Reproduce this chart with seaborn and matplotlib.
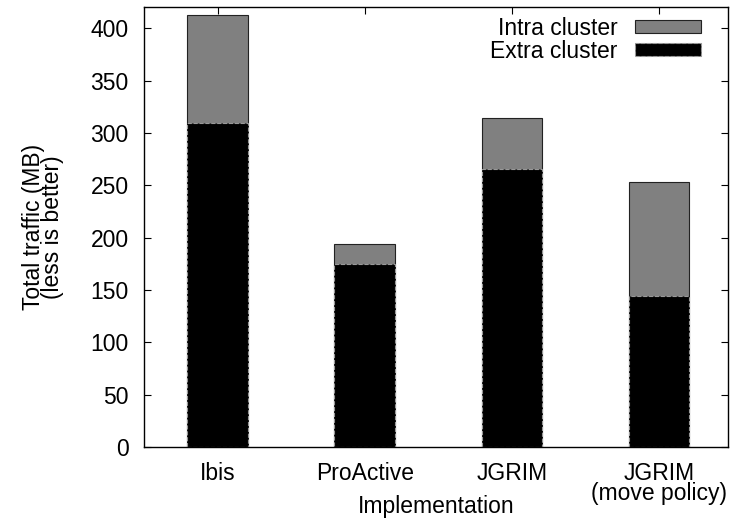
import matplotlib
matplotlib.use("Agg")
import matplotlib.pyplot as plt
import seaborn as sns
import pandas as pd
from matplotlib.patches import Patch

categories = ["Ibis", "ProActive", "JGRIM", "JGRIM\n(move policy)"]
extra_cluster = [309.5, 174.5, 265.5, 144.5]
intra_cluster = [103.0, 19.5, 48.5, 108.5]
totals = [e + i for e, i in zip(extra_cluster, intra_cluster)]

df = pd.DataFrame({"Implementation": categories, "total": totals, "extra": extra_cluster})

sns.set_theme(style="ticks")
plt.rcParams['font.family'] = ['Liberation Sans', 'DejaVu Sans']
plt.rcParams.update({
    'text.color': 'black', 'axes.labelcolor': 'black',
    'xtick.color': 'black', 'ytick.color': 'black',
    'xtick.direction': 'in', 'ytick.direction': 'in',
    'xtick.major.size': 5, 'ytick.major.size': 5,
    'xtick.major.width': 0.8, 'ytick.major.width': 0.8,
    'xtick.top': True, 'ytick.right': True,
})

fig = plt.figure(figsize=(7.33, 5.22), dpi=100)
ax = fig.add_axes([0.1965, 0.1437, 0.7965, 0.8423])

gray = "#808080"
sns.barplot(data=df, x="Implementation", y="total", color=gray, saturation=1,
            width=0.41, edgecolor="#222222", linewidth=0.8, ax=ax)
sns.barplot(data=df, x="Implementation", y="extra", color="black", saturation=1,
            width=0.41, edgecolor="#999999", linewidth=0.8, linestyle="--", ax=ax)

ax.set_xlim(-0.5, 3.47)
ax.set_ylim(0, 420)
ax.set_yticks(range(0, 401, 50))
fs = 16.5
ax.tick_params(axis="both", which="major", direction="in", top=True, right=True,
               bottom=True, left=True, length=5, width=0.8,
               labelsize=fs, color="black", labelcolor="black")
ax.tick_params(axis="y", pad=11)
ax.tick_params(axis="x", pad=10.5)
for s in ax.spines.values():
    s.set_visible(True)
    s.set_color("black")
    s.set_linewidth(1.0)

ax.set_xlabel("Implementation", fontsize=fs, labelpad=-7, color="black")
ax.set_ylabel("Total traffic (MB)\n(less is better)", fontsize=fs, labelpad=19,
              linespacing=0.8, color="black")
for lbl in ax.get_xticklabels():
    lbl.set_linespacing(0.85)

handles = [Patch(facecolor=gray, edgecolor="#222222", linewidth=0.8, label="Intra cluster"),
           Patch(facecolor="black", edgecolor="#999999", linewidth=0.8, linestyle="--", label="Extra cluster")]
ax.legend(handles=handles, loc="upper right", bbox_to_anchor=(0.97, 0.999), frameon=False,
          markerfirst=False, fontsize=fs, handlelength=2.87, handleheight=0.52,
          labelspacing=0.0, borderaxespad=0.0, handletextpad=0.78)

fig.savefig("out.png", dpi=100)
